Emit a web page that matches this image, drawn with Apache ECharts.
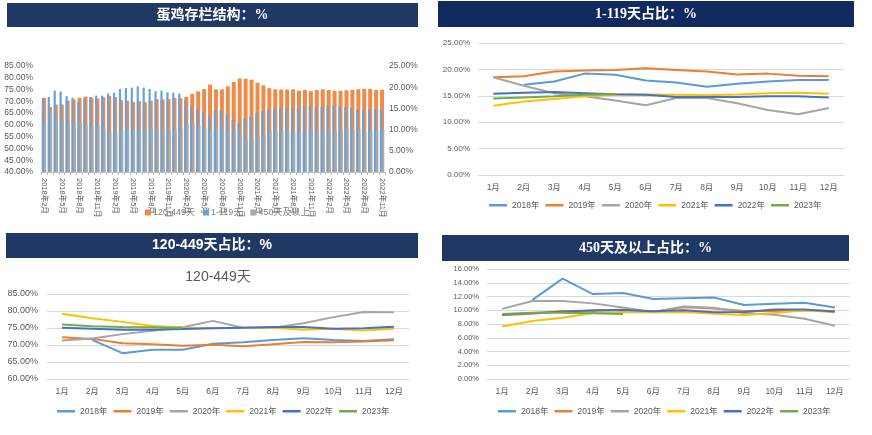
<!DOCTYPE html>
<html><head><meta charset="utf-8">
<script src="https://cdn.jsdelivr.net/npm/echarts@6/dist/echarts.min.js"></script>
<style>html,body{margin:0;padding:0;background:#fff}#c{width:872px;height:435px}</style>
</head><body><div id="c"></div>
<script>
const months = ['1月','2月','3月','4月','5月','6月','7月','8月','9月','10月','11月','12月'];
const years = ['2018年','2019年','2020年','2021年','2022年','2023年'];
const yearColors = ['#5B9BD5','#ED7D31','#A5A5A5','#FFC000','#4472C4','#70AD47'];

// 1-119天占比 (%)
const young2018 = [null,17.1,17.7,19.2,19.0,17.9,17.5,16.7,17.3,17.7,18.0,18.0];
const young2019 = [18.5,18.7,19.6,19.8,19.9,20.2,19.9,19.6,19.05,19.2,18.8,18.7];
const young2020 = [18.5,16.9,15.5,14.9,14.1,13.2,14.6,14.6,13.6,12.3,11.5,12.7];
const young2021 = [13.1,13.9,14.4,14.9,15.2,15.25,15.2,15.1,15.25,15.5,15.6,15.4];
const young2022 = [15.4,15.6,15.7,15.5,15.3,15.2,14.75,14.75,14.75,14.9,14.9,14.7];
const young2023 = [14.5,14.7,14.9,15.2,15.3,null,null,null,null,null,null,null];

// 120-449天占比 (%)
const mid2018 = [null,71.5,67.6,68.6,68.6,70.35,70.8,71.5,72.0,71.5,71.2,71.7];
const mid2019 = [72.3,71.8,70.5,70.25,69.8,70.1,69.6,70.25,70.9,70.8,71.0,71.4];
const mid2020 = [71.3,71.9,73.2,74.2,75.2,77.1,75.1,75.1,76.4,78.2,79.7,79.6];
const mid2021 = [79.2,77.9,76.8,75.6,75.1,75.0,75.0,75.1,74.5,74.8,74.3,74.8];
const mid2022 = [75.1,74.8,74.5,74.5,74.7,74.9,75.1,75.3,75.3,74.8,74.9,75.4];
const mid2023 = [76.0,75.5,75.3,75.2,75.1,null,null,null,null,null,null,null];

// 450天及以上占比 (%)
const old2018 = [null,11.5,14.6,12.35,12.5,11.65,11.75,11.85,10.75,10.95,11.1,10.4];
const old2019 = [9.3,9.5,9.9,9.9,10.1,9.8,10.45,10.25,9.9,9.9,10.0,9.9];
const old2020 = [10.2,11.35,11.35,11.0,10.4,9.7,10.55,10.35,9.6,9.35,8.75,7.75];
const old2021 = [7.65,8.45,8.9,9.6,9.7,9.7,9.75,9.5,9.3,9.6,10.0,9.7];
const old2022 = [9.35,9.6,9.8,10.0,10.05,9.85,10.0,9.7,9.75,10.1,10.1,9.8];
const old2023 = [9.45,9.65,9.65,9.55,9.45,null,null,null,null,null,null,null];

const youngAll = [young2018,young2019,young2020,young2021,young2022,young2023];
const midAll = [mid2018,mid2019,mid2020,mid2021,mid2022,mid2023];
const oldAll = [old2018,old2019,old2020,old2021,old2022,old2023];

// monthly series for the structure chart: 2018-02 .. 2022-11
const barCats = [], barMid = [], barYoung = [], barOld = [];
for (let yi = 0; yi < 5; yi++) {
  for (let m = 0; m < 12; m++) {
    if (yi === 0 && m < 1) continue;
    if (yi === 4 && m > 10) continue;
    barCats.push((2018 + yi) + '年' + (m + 1) + '月');
    barMid.push(midAll[yi][m]);
    barYoung.push(youngAll[yi][m]);
    barOld.push(oldAll[yi][m]);
  }
}

const pct = v => v.toFixed(2) + '%';
const lab = '#595959';
const grid2 = '#d9d9d9';
const navy = '#1F3864';
const font = '"Liberation Sans", "Noto Sans CJK SC", sans-serif';
const titleFontSerif = '"Liberation Serif", "Noto Sans CJK SC", serif';

function band(x, y, w, h, color, text, ff) {
  return [
    {type:'rect', shape:{x:x, y:y, width:w, height:h}, style:{fill:color}, z:10},
    {type:'text', x:x + w/2, y:y + h/2, z:11,
     style:{text:text, fill:'#fff', font:'bold 14px ' + ff, align:'center', verticalAlign:'middle'}}
  ];
}

const lineGrids = [
  {left:478, right:28, top:43, bottom:260},
  {left:47, right:463, top:294, bottom:56},
  {left:487, right:22, top:269, bottom:56}
];

const option = {
  animation:false,
  backgroundColor:'#fff',
  textStyle:{fontFamily:font},
  title:[{text:'120-449天', left:213, top:265, textAlign:'center',
          textStyle:{color:lab, fontSize:14, fontWeight:'normal', fontFamily:font}}],
  grid:[
    {left:41, right:487, top:66, bottom:263},
    lineGrids[0], lineGrids[1], lineGrids[2]
  ],
  xAxis:[
    {type:'category', gridIndex:0, data:barCats, boundaryGap:true,
     axisLine:{lineStyle:{color:'#bfbfbf'}}, axisTick:{show:true, length:3, interval:0, lineStyle:{color:'#bfbfbf'}},
     axisLabel:{interval:2, rotate:-90, color:lab, fontSize:7.5, margin:6}},
    {type:'category', gridIndex:0, data:barCats, show:false},
    {type:'category', gridIndex:1, data:months,
     axisLine:{lineStyle:{color:grid2}}, axisTick:{show:false}, axisLabel:{color:lab, fontSize:8.5, margin:8}},
    {type:'category', gridIndex:2, data:months,
     axisLine:{lineStyle:{color:grid2}}, axisTick:{show:false}, axisLabel:{color:lab, fontSize:8.5, margin:8}},
    {type:'category', gridIndex:3, data:months,
     axisLine:{lineStyle:{color:grid2}}, axisTick:{show:false}, axisLabel:{color:lab, fontSize:8.5, margin:8}}
  ],
  yAxis:[
    {type:'value', gridIndex:0, min:40, max:85, interval:5, splitLine:{show:false},
     axisLabel:{formatter:pct, color:lab, fontSize:8.5, margin:8}},
    {type:'value', gridIndex:0, min:0, max:25, interval:5, position:'right', splitLine:{show:false},
     axisLabel:{formatter:pct, color:lab, fontSize:8.5, margin:4}},
    {type:'value', gridIndex:1, min:0, max:25, interval:5, splitLine:{lineStyle:{color:grid2}},
     axisLabel:{formatter:pct, color:lab, fontSize:8, margin:8}},
    {type:'value', gridIndex:2, min:60, max:85, interval:5, splitLine:{lineStyle:{color:grid2}},
     axisLabel:{formatter:pct, color:lab, fontSize:9, margin:9}},
    {type:'value', gridIndex:3, min:0, max:16, interval:2, splitLine:{lineStyle:{color:grid2}},
     axisLabel:{formatter:pct, color:lab, fontSize:7.5, margin:8}}
  ],
  legend:[
    {left:140, top:203, itemWidth:6, itemHeight:6, itemGap:8, icon:'rect',
     textStyle:{color:'#7f7f7f', fontSize:9, padding:[0,0,0,-3]},
     data:['120-449天','1-119天','450天及以上']},
    {left:484, top:196, itemWidth:18, itemHeight:2.5, itemGap:6, icon:'rect',
     textStyle:{color:lab, fontSize:8.5}, data:years},
    {left:52, top:402, itemWidth:18, itemHeight:2.5, itemGap:6, icon:'rect',
     textStyle:{color:lab, fontSize:8.5}, data:years},
    {left:493, top:402, itemWidth:18, itemHeight:2.5, itemGap:6, icon:'rect',
     textStyle:{color:lab, fontSize:8.5}, data:years}
  ],
  graphic:[].concat(
    band(7, 3, 411, 24, navy, '蛋鸡存栏结构：%', titleFontSerif),
    band(438, 1, 416, 26, '#10295f', '1-119天占比：%', titleFontSerif),
    band(6, 233, 412, 25, navy, '120-449天占比：%', font),
    band(442, 235, 407, 26, navy, '450天及以上占比：%', titleFontSerif)
  ),
  series:[]
};

option.series.push(
  {name:'120-449天', type:'bar', xAxisIndex:1, yAxisIndex:0, data:barMid, barWidth:4, itemStyle:{color:'#EF8A48'}},
  {name:'1-119天', type:'bar', xAxisIndex:0, yAxisIndex:1, data:barYoung, barWidth:2.2, barGap:'0%', itemStyle:{color:'#68A2D8'}},
  {name:'450天及以上', type:'bar', xAxisIndex:0, yAxisIndex:1, data:barOld, barWidth:2.2, barGap:'0%', itemStyle:{color:'#A9A9A9'}}
);

const panels = [youngAll, midAll, oldAll];
panels.forEach((set, pi) => {
  set.forEach((arr, yi) => {
    option.series.push({
      name:years[yi], type:'line', xAxisIndex:pi + 2, yAxisIndex:pi + 2,
      data:arr, symbol:'none', connectNulls:false,
      lineStyle:{width:2, color:yearColors[yi]}, itemStyle:{color:yearColors[yi]}
    });
  });
});

const chart = echarts.init(document.getElementById('c'), null, {renderer:'canvas'});
chart.setOption(option);
</script>
</body></html>
